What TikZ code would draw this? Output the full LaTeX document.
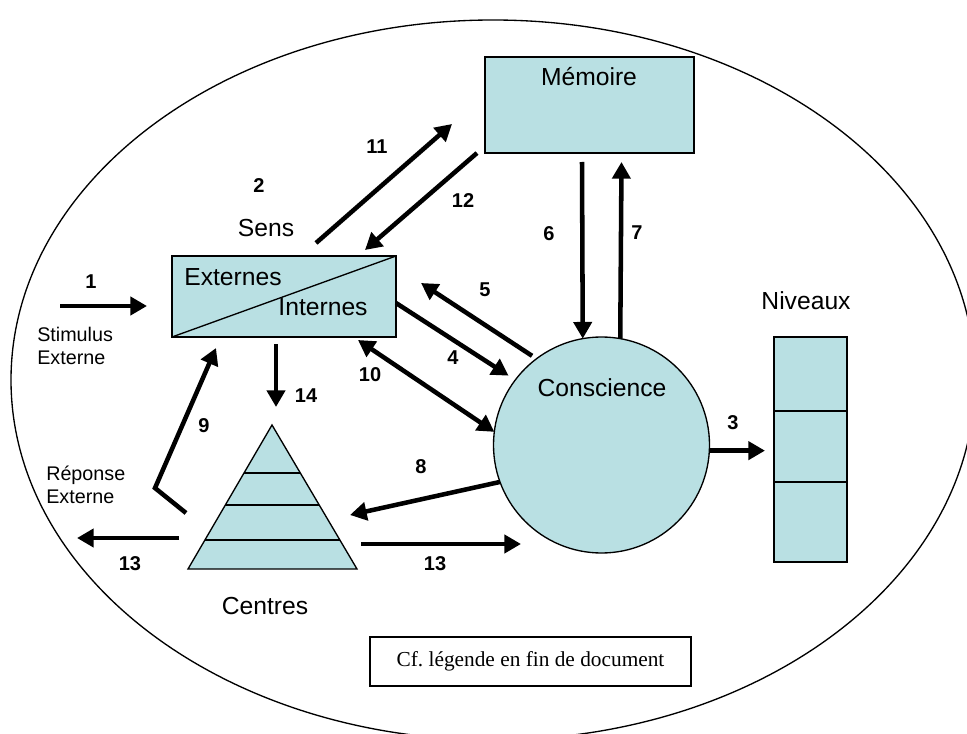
\documentclass[tikz,border=0pt]{standalone}
\usepackage{fontspec}
\setmainfont{Liberation Sans}
\newfontfamily\legendfont{Liberation Serif}
\usetikzlibrary{arrows.meta,calc}
\definecolor{boxblue}{RGB}{185,224,227}
\tikzset{
block/.style = {
     draw,
     fill=boxblue,
     line width=1pt,
     inner sep=0pt,
     outer sep=0pt
   },
flow/.style = {
     -{Triangle[length=12.5pt,width=13.5pt]},
     line width=3.4pt
     },
twoway/.style = {
     {Triangle[length=12.5pt,width=13.5pt]}-{Triangle[length=12.5pt,width=13.5pt]},
     line width=3.4pt
     },
big label/.style = {font=\fontsize{18.5}{22}\selectfont, inner sep=0pt},
side label/.style = {font=\fontsize{14.8}{17.3}\selectfont, inner sep=0pt, align=left, anchor=west},
num/.style = {font=\fontsize{15}{18}\selectfont\bfseries, inner sep=0pt}
}

\begin{document}
\begin{tikzpicture}[x=0.75pt,y=-0.75pt]
\useasboundingbox (0,0) rectangle (967,734);
\clip (0,0) rectangle (967,734);

% outer ellipse
\draw[line width=1pt] (493,380) ellipse [x radius=482, y radius=360];

% boxes
\node[block, minimum width=156.75pt, minimum height=72pt] (memoire) at (589.5,105) {};
\node[big label] at (589,77) {Mémoire};

\node[block, minimum width=168pt, minimum height=60.75pt] (sens) at (284,296.5) {};
\draw[line width=1pt] (sens.south west) -- (sens.north east);
\node[big label] at (233,277) {Externes};
\node[big label] at (323,307) {Internes};
\node[big label] at (266,228) {Sens};

\node[block, circle, minimum size=162pt] (consc) at (601.5,445) {};
\node[big label] at (602,388) {Conscience};

\node[block, minimum width=54.75pt, minimum height=168.75pt] (niveaux) at (810.5,449.5) {};
\foreach \y in {411,482}
  \draw[line width=1pt] (niveaux.west |- 0,\y) -- (niveaux.east |- 0,\y);
\node[big label] at (806,301) {Niveaux};

% pyramid of centres
\coordinate (apex) at (272,425);
\coordinate (pyrL) at (188,569);
\coordinate (pyrR) at (357,569);
\draw[block] (apex) -- (pyrL) -- (pyrR) -- cycle;
\foreach \t in {0.333,0.556,0.799}
  \draw[line width=1.1pt] ($(apex)!\t!(pyrL)$) -- ($(apex)!\t!(pyrR)$);
\node[big label] at (265,606) {Centres};

\node[draw, line width=0.9pt, fill=white, minimum width=240.75pt, minimum height=36.75pt,
      font=\legendfont\fontsize{16}{19}\selectfont] (legende) at (530.5,661.5)
      {Cf.\ légende en fin de document};

\node[side label] at (37,346) {Stimulus\\Externe};
\node[side label] at (46,485) {Réponse\\Externe};

% free ends
\coordinate (stim) at (60,306);
\coordinate (c9) at (186,513);
\coordinate (bend) at (155,488);
\coordinate (c13l) at (179,538);
\coordinate (out13) at (77,538);
\coordinate (c13r) at (361,544);
\coordinate (in13) at (521,544);
\coordinate (c8) at (350,515);

% connectors
\draw[flow, shorten >=18.75pt] (stim) -- (stim -| sens.west);
\draw[flow] ([shift={(32,-13)}]sens.north) -- ([shift={(-33,-29)}]memoire.south west);
\draw[flow] ([shift={(-8,0)}]memoire.south west) -- ([shift={(81,-6)}]sens.north);
\draw[flow] ([shift={(-7.5,9)}]memoire.south) -- (consc.100);
\draw[flow] (consc.80) -- ([shift={(32,9)}]memoire.south);
\draw[flow, shorten <=4pt] (consc.127) -- ([shift={(25,-13.5)}]sens.east);
\draw[flow, shorten >=6pt] ([shift={(0,6.5)}]sens.east) -- (consc.143);
\draw[twoway] ([shift={(74,3)}]sens.south) -- (consc.173);
\draw[flow] ([shift={(-8,7)}]sens.south) -- ([shift={(4,-18)}]apex);
\draw[flow, shorten >=6.75pt] (consc.357) -- (consc.357 -| niveaux.west);
\draw[flow] (consc.200) -- (c8);
\draw[flow] (c9) -- (bend) -- ([shift={(44,11)}]sens.south west);
\draw[flow] (c13l) -- (out13);
\draw[flow] (c13r) -- (in13);

% numbers
\foreach \n/\x/\y in {1/91/282, 2/259/186, 3/733/423, 4/453/358, 5/485/290,
                     6/549/234, 7/637/233, 8/421/467, 9/204/426, 10/370/375,
                     11/377/147, 12/463/201, 13/130/564, 13/435/564, 14/306/396}
  \node[num] at (\x,\y) {\n};
\end{tikzpicture}
\end{document}
